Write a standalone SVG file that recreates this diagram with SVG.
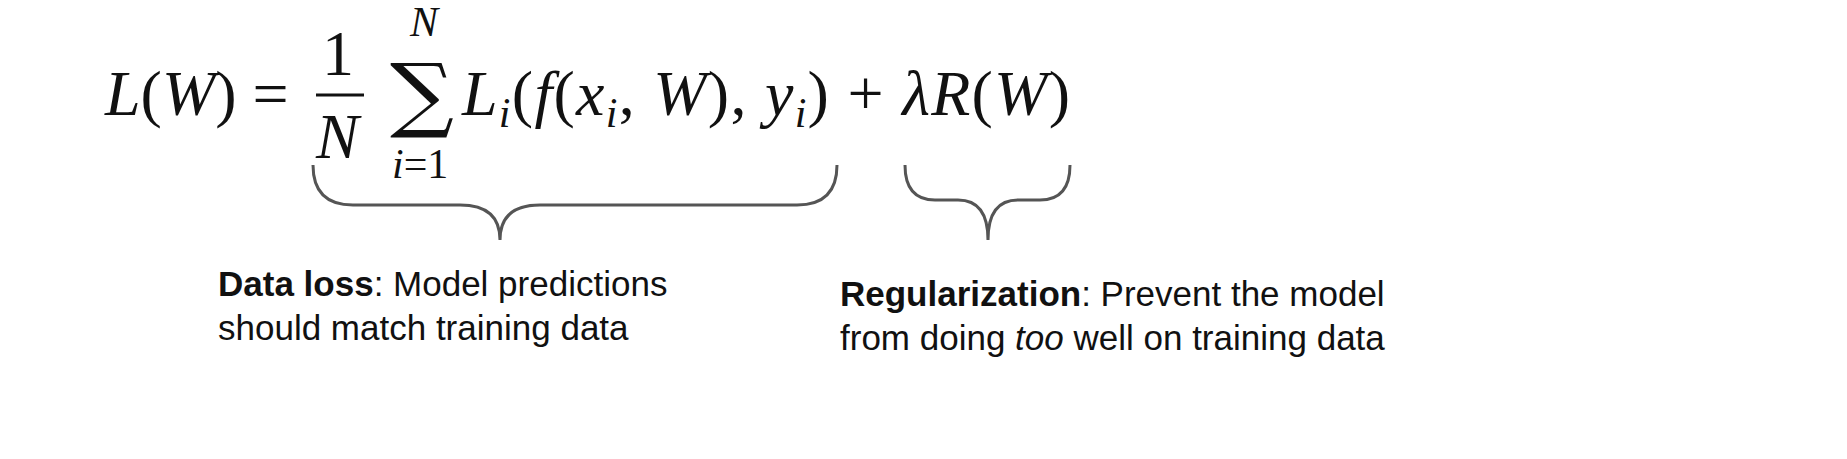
<svg xmlns="http://www.w3.org/2000/svg" width="1847" height="459" viewBox="0 0 1847 459">
<style>
.m{font-family:"Liberation Serif",serif;font-size:64px;fill:#111}
.i{font-style:italic}
.s{font-size:42px}
.t{font-family:"Liberation Sans",Arial,sans-serif;font-size:35px;fill:#111}
.b{fill:none;stroke:#555;stroke-width:3}
</style>
<rect width="1847" height="459" fill="#fff"/>
<g id="formula">
<text class="m" x="105" y="115"><tspan class="i">L</tspan>(<tspan class="i">W</tspan>) =</text>
<text class="m" x="322" y="75">1</text>
<line x1="316" y1="95" x2="364" y2="95" stroke="#111" stroke-width="3"/>
<text class="m i" x="316" y="158">N</text>
<text x="390" y="122" font-family="DejaVu Serif,serif" font-size="82" fill="#111" textLength="64" lengthAdjust="spacingAndGlyphs">∑</text>
<text class="m i s" x="410" y="36">N</text>
<text class="m s" x="392" y="178"><tspan class="i">i</tspan>=1</text>
<text class="m" x="462" y="115" textLength="608" lengthAdjust="spacing"><tspan class="i">L<tspan class="s" dy="12">i</tspan></tspan><tspan dy="-12">(</tspan><tspan class="i">f</tspan>(<tspan class="i">x<tspan class="s" dy="12">i</tspan></tspan><tspan dy="-12">, </tspan><tspan class="i">W</tspan>), <tspan class="i">y<tspan class="s" dy="12">i</tspan></tspan><tspan dy="-12">) + </tspan><tspan class="i">λR</tspan>(<tspan class="i">W</tspan>)</text>
</g>
<g id="connectors">
<path class="b" d="M313,165 Q313,205 353,205 L460,205 Q500,205 500,240 Q500,205 540,205 L797,205 Q837,205 837,165"/>
<path class="b" d="M905,165 Q905,200 935,200 L958,200 Q988,200 988,240 Q988,200 1018,200 L1040,200 Q1070,200 1070,165"/>
</g>
<g id="data-loss">
<text class="t" x="218" y="296"><tspan font-weight="bold">Data loss</tspan>: Model predictions</text>
<text class="t" x="218" y="340">should match training data</text>
</g>
<g id="regularization">
<text class="t" x="840" y="306"><tspan font-weight="bold">Regularization</tspan>: Prevent the model</text>
<text class="t" x="840" y="350">from doing <tspan font-style="italic">too</tspan> well on training data</text>
</g>
</svg>
